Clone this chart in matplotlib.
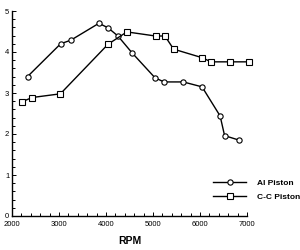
import matplotlib
matplotlib.use("Agg")
import matplotlib.pyplot as plt
from matplotlib.ticker import MultipleLocator

plt.rcParams['font.family'] = ['Liberation Sans', 'DejaVu Sans']

# Al piston (circles)
al_rpm = [2330, 3035, 3255, 3850, 4045, 4255, 4555, 5045, 5235, 5645, 6045, 6430, 6525, 6835]
al_val = [3.40, 4.20, 4.29, 4.70, 4.59, 4.39, 3.98, 3.37, 3.27, 3.27, 3.15, 2.44, 1.96, 1.85]

# C-C piston (squares)
cc_rpm = [2220, 2430, 3030, 4045, 4445, 5055, 5255, 5440, 6050, 6235, 6645, 7050]
cc_val = [2.79, 2.89, 2.98, 4.19, 4.49, 4.39, 4.39, 4.07, 3.86, 3.76, 3.76, 3.76]

fig = plt.figure(figsize=(3, 2.5), dpi=100)
ax = fig.add_axes([0.04, 0.136, 0.783, 0.82])

ax.plot(al_rpm, al_val, color='black', linewidth=1.0, marker='o', markersize=3.8,
        markerfacecolor='white', markeredgecolor='black', markeredgewidth=0.8,
        clip_on=False, label='Al Piston')
ax.plot(cc_rpm, cc_val, color='black', linewidth=1.0, marker='s', markersize=3.8,
        markerfacecolor='white', markeredgecolor='black', markeredgewidth=0.8,
        clip_on=False, label='C-C Piston')

ax.set_xlim(2000, 7000)
ax.set_ylim(0, 5)
ax.xaxis.set_major_locator(MultipleLocator(1000))
ax.xaxis.set_minor_locator(MultipleLocator(200))
ax.yaxis.set_major_locator(MultipleLocator(1))
ax.yaxis.set_minor_locator(MultipleLocator(0.2))

for side in ['top', 'right']:
    ax.spines[side].set_visible(False)
for side in ['left', 'bottom']:
    ax.spines[side].set_linewidth(1.0)

ax.tick_params(which='both', direction='in', width=0.7, labelsize=5.5)
ax.tick_params(axis='x', pad=3.5)
ax.tick_params(axis='y', pad=2)
ax.tick_params(which='major', length=3)
ax.tick_params(which='minor', length=2)

ax.set_xlabel('RPM', fontsize=7.5, fontweight='bold', labelpad=6)

leg = ax.legend(loc='center left', bbox_to_anchor=(0.71, 0.24),
                bbox_transform=fig.transFigure, frameon=False,
                borderpad=0, borderaxespad=0, handlelength=4,
                handletextpad=1.3, labelspacing=0.8,
                prop={'size': 6, 'weight': 'bold'})

fig.savefig('out.png', dpi=100)
